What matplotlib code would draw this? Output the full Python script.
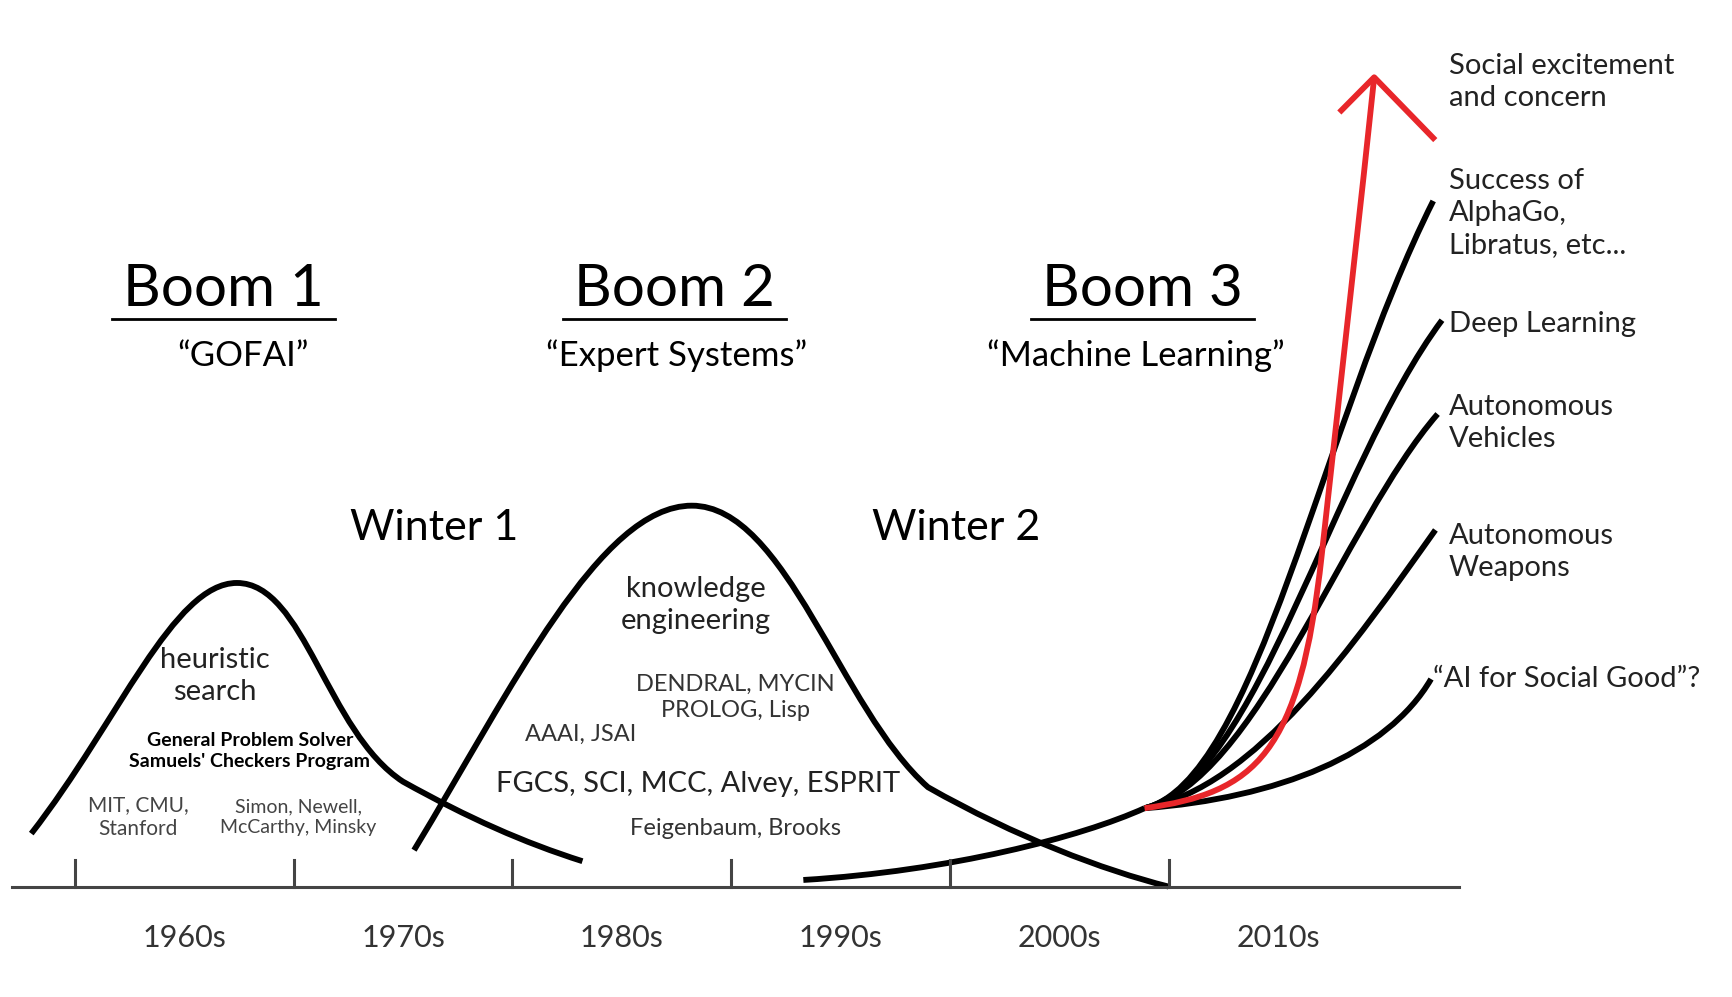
import matplotlib.pyplot as plt
from matplotlib.path import Path
from matplotlib.patches import PathPatch

plt.rcParams["font.family"] = "Lato"

# x in years, y in "hype" units above the time axis
decades = ["1960s", "1970s", "1980s", "1990s", "2000s", "2010s"]
decade_centers = [1960, 1970, 1980, 1990, 2000, 2010]
tick_years = [1955, 1965, 1975, 1985, 1995, 2005]

# cubic bezier control points (start, then groups of three)
boom1 = [(1953, 48), (1957, 150), (1959.5, 275), (1962.4, 275),
         (1965.5, 275), (1966.5, 140), (1970, 95),
         (1973, 62), (1975.5, 40), (1978.2, 23)]
boom2 = [(1970.5, 33), (1975, 180), (1979, 345), (1983.2, 345),
         (1987.5, 345), (1990, 160), (1994, 90),
         (1998, 45), (2002, 15), (2005, 0)]
boom3_base = [(1988.3, 6), (1995, 14), (2001, 45), (2003.9, 71)]
branches = [
    [(2003.9, 71), (2009, 95), (2012, 420), (2017.1, 621)],
    [(2003.9, 71), (2009, 95), (2012.5, 380), (2017.5, 513)],
    [(2003.9, 71), (2009, 95), (2013, 330), (2017.3, 428)],
    [(2003.9, 71), (2009, 90), (2013.5, 220), (2017.2, 323)],
    [(2003.9, 71), (2010, 80), (2015, 120), (2017.0, 188)],
]
red = [(2003.9, 71), (2009, 85), (2011, 120), (2012, 300),
       (2013, 480), (2013.8, 620), (2014.4, 733)]
red_barbs = [[(2012.9, 703), (2014.4, 733), (2017.1, 678)]]

booms = ["Boom 1", "Boom 2", "Boom 3"]
boom_x = [1961.8, 1982.4, 2003.8]
boom_sub = ["\u201cGOFAI\u201d", "\u201cExpert Systems\u201d", "\u201cMachine Learning\u201d"]
boom_sub_x = [1962.7, 1982.5, 2003.5]
winters = ["Winter 1", "Winter 2"]
winter_x = [1971.4, 1995.3]

right_labels = ["Social excitement\nand concern", "Success of\nAlphaGo,\nLibratus, etc...",
                "Deep Learning", "Autonomous\nVehicles", "Autonomous\nWeapons",
                "\u201cAI for Social Good\u201d?"]
right_y = [729, 610, 510, 420, 303, 188]

fig = plt.figure(figsize=(17.32, 9.97), dpi=100)
ax = fig.add_axes([0, 0, 1, 1])
ax.set_xlim(1951.57, 2030.76)
ax.set_ylim(-100, 803)
ax.axis("off")


def bez(pts, color="black"):
    codes = [Path.MOVETO] + [Path.CURVE4] * (len(pts) - 1)
    ax.add_patch(PathPatch(Path(pts, codes), fill=False, lw=4.2, color=color,
                           capstyle="butt"))


for c in [boom1, boom2, boom3_base] + branches:
    bez(c)
bez(red, "#e8262a")
for b in red_barbs:
    ax.plot([p[0] for p in b], [p[1] for p in b], color="#e8262a", lw=4.2)

# time axis
ax.plot([1952.1, 2018.3], [0, 0], color="#444", lw=2.2)
for t in tick_years:
    ax.plot([t, t], [0, 24], color="#444", lw=2.2)
for lab, x in zip(decades, decade_centers):
    ax.text(x, -47, lab, ha="center", va="center", fontsize=22, color="#333")

for lab, x in zip(booms, boom_x):
    ax.text(x, 541, lab, ha="center", va="center", fontsize=42)
    ax.plot([x - 5.1, x + 5.1], [514, 514], color="black", lw=2)
for lab, x in zip(boom_sub, boom_sub_x):
    ax.text(x, 481, lab, ha="center", va="center", fontsize=25)
for lab, x in zip(winters, winter_x):
    ax.text(x, 325, lab, ha="center", va="center", fontsize=31)

ax.text(1961.4, 191, "heuristic\nsearch", ha="center", va="center", fontsize=21,
        color="#222", linespacing=1.3)
ax.text(1963.0, 123, "General Problem Solver\nSamuels' Checkers Program", ha="center",
        va="center", fontsize=14, fontweight="bold", linespacing=1.3)
ax.text(1957.9, 63, "MIT, CMU,\nStanford", ha="center", va="center", fontsize=15,
        color="#444", linespacing=1.3)
ax.text(1965.2, 63, "Simon, Newell,\nMcCarthy, Minsky", ha="center", va="center",
        fontsize=14, color="#444", linespacing=1.3)
ax.text(1983.4, 255, "knowledge\nengineering", ha="center", va="center", fontsize=21,
        color="#222", linespacing=1.3)
ax.text(1985.2, 171, "DENDRAL, MYCIN\nPROLOG, Lisp", ha="center", va="center",
        fontsize=17, color="#333", linespacing=1.3)
ax.text(1978.1, 138, "AAAI, JSAI", ha="center", va="center", fontsize=17, color="#333")
ax.text(1983.5, 93, "FGCS, SCI, MCC, Alvey, ESPRIT", ha="center", va="center",
        fontsize=21, color="#222")
ax.text(1985.2, 53, "Feigenbaum, Brooks", ha="center", va="center", fontsize=17,
        color="#333")

for lab, y in zip(right_labels, right_y):
    x = 2017.1 if lab.startswith("\u201cAI") else 2017.8
    ax.text(x, y, lab, ha="left", va="center", fontsize=21, color="#222",
            linespacing=1.3)

fig.savefig("out.png", dpi=100)
